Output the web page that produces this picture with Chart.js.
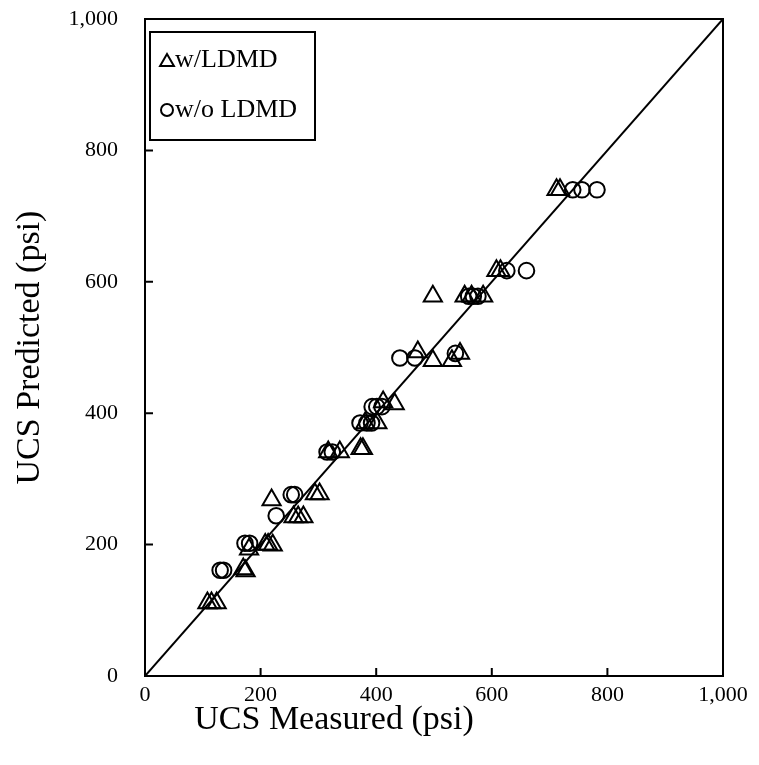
<!DOCTYPE html>
<html>
<head>
<meta charset="utf-8">
<script src="https://cdn.jsdelivr.net/npm/chart.js@4.4.1/dist/chart.umd.min.js"></script>
<style>
  html, body { margin: 0; padding: 0; background: #ffffff; }
  #wrap { position: relative; width: 759px; height: 765px; }
</style>
</head>
<body>
<div id="wrap"><canvas id="chart"></canvas></div>
<script>
// UCS measured vs. predicted, with and without LDMD (psi)
const withLdmdMeasured = [108, 115, 124, 170, 174, 180, 208, 213, 221, 219, 257, 265, 274, 294, 302,
  317, 337, 373, 377, 381, 402, 412, 432, 472, 498, 531, 545, 498, 553, 565, 585, 608, 615, 712, 718];
const withLdmdPredicted = [111, 111, 111, 163, 160, 193, 200, 200, 199, 268, 242, 242, 242, 277, 277,
  341, 341, 346, 346, 385, 385, 417, 414, 493, 480, 480, 491, 578, 578, 578, 578, 617, 617, 740, 740];

const withoutLdmdMeasured = [130, 136, 173, 181, 227, 253, 259, 315, 324, 372, 384, 392, 393, 401, 410,
  441, 467, 537, 560, 568, 576, 626, 660, 740, 756, 782];
const withoutLdmdPredicted = [161, 161, 202, 202, 244, 276, 276, 341, 341, 385, 385, 385, 410, 410, 410,
  484, 484, 491, 578, 578, 578, 617, 617, 740, 740, 740];

// 1:1 reference line
const identityX = [0, 1000];
const identityY = [0, 1000];

const axisTicks = [0, 200, 400, 600, 800, 1000];
const xTitle = 'UCS Measured (psi)';
const yTitle = 'UCS Predicted (psi)';
const seriesNames = ['w/LDMD', 'w/o LDMD'];

const SERIF = '"Liberation Serif", "Times New Roman", serif';

const toPoints = (xs, ys) => xs.map((x, i) => ({ x, y: ys[i] }));

// Frame, inward tick marks, axis titles and the boxed legend
const framePlugin = {
  id: 'frame',
  afterDraw(chart) {
    const { ctx, chartArea: a, scales } = chart;
    ctx.save();
    ctx.strokeStyle = '#000';
    ctx.lineWidth = 2;
    ctx.strokeRect(a.left, a.top, a.right - a.left, a.bottom - a.top);
    ctx.beginPath();
    axisTicks.forEach(v => {
      const px = scales.x.getPixelForValue(v);
      ctx.moveTo(px, a.bottom);
      ctx.lineTo(px, a.bottom - 8);
      const py = scales.y.getPixelForValue(v);
      ctx.moveTo(a.left, py);
      ctx.lineTo(a.left + 8, py);
    });
    ctx.stroke();

    // axis titles
    ctx.fillStyle = '#000';
    ctx.font = '34px ' + SERIF;
    ctx.textAlign = 'center';
    ctx.textBaseline = 'middle';
    ctx.fillText(xTitle, 334, 720);
    ctx.save();
    ctx.translate(30, (a.top + a.bottom) / 2);
    ctx.rotate(-Math.PI / 2);
    ctx.fillText(yTitle, 0, 0);
    ctx.restore();

    // legend
    const lx = 150, ly = 32, lw = 165, lh = 108;
    ctx.fillStyle = '#fff';
    ctx.fillRect(lx, ly, lw, lh);
    ctx.strokeRect(lx, ly, lw, lh);
    const styles = ['triangle', 'circle'];
    const rows = [60, 110];
    rows.forEach((ry, i) => {
      ctx.fillStyle = 'rgba(0,0,0,0)';
      ctx.strokeStyle = '#000';
      Chart.helpers.drawPoint(ctx, {
        pointStyle: styles[i], radius: styles[i] === 'triangle' ? 8 : 6, rotation: 0,
        borderWidth: 1.5
      }, 167, ry + (styles[i] === 'triangle' ? 2 : 0));
      ctx.fillStyle = '#000';
      ctx.font = '26px ' + SERIF;
      ctx.textAlign = 'left';
      ctx.textBaseline = 'middle';
      ctx.fillText(seriesNames[i], 175, ry);
    });
    ctx.restore();
  }
};

const noPad = s => { s.paddingTop = 0; s.paddingBottom = 0; s.paddingLeft = 0; s.paddingRight = 0; };

new Chart(document.getElementById('chart'), {
  type: 'scatter',
  data: {
    datasets: [
      {
        label: '1:1',
        data: toPoints(identityX, identityY),
        showLine: true,
        borderColor: '#000',
        borderWidth: 2,
        pointRadius: 0,
        fill: false
      },
      {
        label: seriesNames[0],
        data: toPoints(withLdmdMeasured, withLdmdPredicted),
        pointStyle: 'triangle',
        pointRadius: 10.5,
        pointBorderWidth: 2,
        pointBorderColor: '#000',
        pointBackgroundColor: 'rgba(0,0,0,0)'
      },
      {
        label: seriesNames[1],
        data: toPoints(withoutLdmdMeasured, withoutLdmdPredicted),
        pointStyle: 'circle',
        pointRadius: 7.8,
        pointBorderWidth: 2,
        pointBorderColor: '#000',
        pointBackgroundColor: 'rgba(0,0,0,0)'
      }
    ]
  },
  options: {
    responsive: true,
    maintainAspectRatio: false,
    animation: false,
    layout: { padding: { top: 19, right: 36, left: 0, bottom: 0 } },
    plugins: { legend: { display: false }, tooltip: { enabled: false } },
    scales: {
      x: {
        type: 'linear',
        min: 0,
        max: 1000,
        afterBuildTicks: s => { s.ticks = axisTicks.map(v => ({ value: v })); },
        afterFit: s => { s.height = 89; noPad(s); },
        grid: { display: false, drawTicks: false },
        border: { display: false },
        ticks: {
          color: '#000',
          padding: 6,
          maxRotation: 0,
          font: { family: SERIF, size: 22 },
          callback: v => v.toLocaleString('en-US')
        }
      },
      y: {
        type: 'linear',
        min: 0,
        max: 1000,
        afterBuildTicks: s => { s.ticks = axisTicks.map(v => ({ value: v })); },
        afterFit: s => { s.width = 145; noPad(s); },
        grid: { display: false, drawTicks: false },
        border: { display: false },
        ticks: {
          color: '#000',
          padding: 27,
          font: { family: SERIF, size: 22 },
          callback: v => v.toLocaleString('en-US')
        }
      }
    }
  },
  plugins: [framePlugin]
});
</script>
</body>
</html>
